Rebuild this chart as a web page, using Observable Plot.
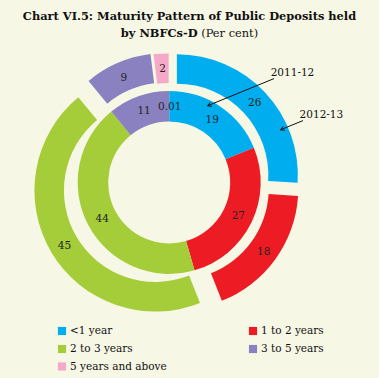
<!DOCTYPE html>
<html><head><meta charset="utf-8">
<script src="https://cdn.jsdelivr.net/npm/d3@7"></script>
<script src="https://cdn.jsdelivr.net/npm/@observablehq/plot@0.6"></script>
<style>
html,body{margin:0;padding:0;background:#f7f7e6;}
#title{height:44px;box-sizing:border-box;padding-top:8px;text-align:center;font-family:"DejaVu Serif";font-size:11.4px;line-height:17px;color:#111;white-space:nowrap;}
#chart svg{display:block;background:transparent;}
</style></head><body>
<div id="title"><b>Chart VI.5: Maturity Pattern of Public Deposits held</b><br><b>by NBFCs-D</b> (Per cent)</div>
<div id="chart"></div>
<script>
// ---- data ----
const categories = ["<1 year", "1 to 2 years", "2 to 3 years", "3 to 5 years", "5 years and above"];
const values2011 = [19, 27, 44, 11, 0.01];
const values2012 = [26, 18, 45, 9, 2];
const labels2011 = ["19", "27", "44", "11", "0.01"];
const labels2012 = ["26", "18", "45", "9", "2"];
const seriesNames = ["2011-12", "2012-13"];
const colors = ["#00aeef", "#ed1c24", "#a4cd39", "#8a82c0", "#f5a9c9"];

// ---- layout (page pixel space) ----
const W = 379, TOP = 44, H = 378 - TOP;
const cx = 169.2, cy = 182.4;
const rings = [
  {name: seriesNames[0], values: values2011, labels: labels2011, r0: 61, r1: 91.5, explode: [0, 0, 0, 0, 0]},
  {name: seriesNames[1], values: values2012, labels: labels2012, r0: 91.5, r1: 121, explode: [10.5, 10, 16, 9, 8]}
];
const pie = d3.pie().sort(null).value(d => d);
rings.forEach(r => { r.arcs = pie(r.values); });

// label positions at mid angle / mid radius of each (exploded) slice
const sliceLabels = [];
rings.forEach(r => r.arcs.forEach((a, i) => {
  const mid = (a.startAngle + a.endAngle) / 2;
  const e = r.explode[i], rm = (r.r0 + r.r1) / 2;
  sliceLabels.push({
    x: cx + (e + rm) * Math.sin(mid),
    y: cy - (e + rm) * Math.cos(mid),
    text: r.labels[i]
  });
}));

// annotations: arrow tip inside a ring at given angle/radius
function ringPoint(ringIdx, sliceIdx, angleDeg, rad) {
  const r = rings[ringIdx], a = r.arcs[sliceIdx];
  const mid = (a.startAngle + a.endAngle) / 2, e = r.explode[sliceIdx];
  const t = angleDeg * Math.PI / 180;
  return [cx + e * Math.sin(mid) + rad * Math.sin(t), cy - e * Math.cos(mid) - rad * Math.cos(t)];
}
const annotations = [
  {text: seriesNames[0], tip: ringPoint(0, 0, 26.2, 86), tail: [66, -27]},
  {text: seriesNames[1], tip: ringPoint(1, 0, 66, 113), tail: [22, -9]}
].map(d => ({text: d.text, x2: d.tip[0], y2: d.tip[1], x1: d.tip[0] + d.tail[0], y1: d.tip[1] + d.tail[1]}));

// legend
const legendCols = [61.5, 252.5], legendRows = [330.5, 348.5, 366];
const legendItems = categories.map((c, i) => ({
  cat: c,
  x: legendCols[i === 4 ? 0 : i % 2],
  y: legendRows[Math.floor(i / 2)]
}));

const serif = "DejaVu Serif";

function ringMark(index, scales) {
  const color = scales.color || (c => colors[categories.indexOf(c)]);
  const g = d3.create("svg:g");
  rings.forEach(r => r.arcs.forEach((a, i) => {
    const mid = (a.startAngle + a.endAngle) / 2, e = r.explode[i];
    g.append("path")
      .attr("d", d3.arc().innerRadius(r.r0).outerRadius(r.r1)(a))
      .attr("transform", `translate(${scales.x(cx) + e * Math.sin(mid)},${scales.y(cy) - e * Math.cos(mid)})`)
      .attr("fill", color(categories[i]));
  }));
  return g.node();
}

const chart = Plot.plot({
  width: W, height: H,
  margin: 0,
  style: {background: "transparent", fontFamily: serif},
  x: {domain: [0, W], range: [0, W], axis: null},
  y: {domain: [TOP, 378], range: [0, H], axis: null},
  color: {domain: categories, range: colors},
  marks: [
    ringMark,
    Plot.text(sliceLabels, {x: "x", y: "y", text: "text", fontSize: 10.5, fill: "#222", fontFamily: serif}),
    Plot.arrow(annotations, {x1: "x1", y1: "y1", x2: "x2", y2: "y2", stroke: "#111", strokeWidth: 1, headLength: 6, bend: 0}),
    Plot.text(annotations, {x: "x1", y: "y1", text: "text", textAnchor: "start", dx: -3, dy: -6, fontSize: 10.5, fill: "#111", fontFamily: serif}),
    Plot.dot(legendItems, {x: "x", y: "y", fill: "cat", symbol: "square", r: 4.6}),
    Plot.text(legendItems, {x: "x", y: "y", text: "cat", dx: 8, textAnchor: "start", fontSize: 10.5, fill: "#111", fontFamily: serif})
  ]
});
document.getElementById("chart").appendChild(chart);
</script>
</body></html>
